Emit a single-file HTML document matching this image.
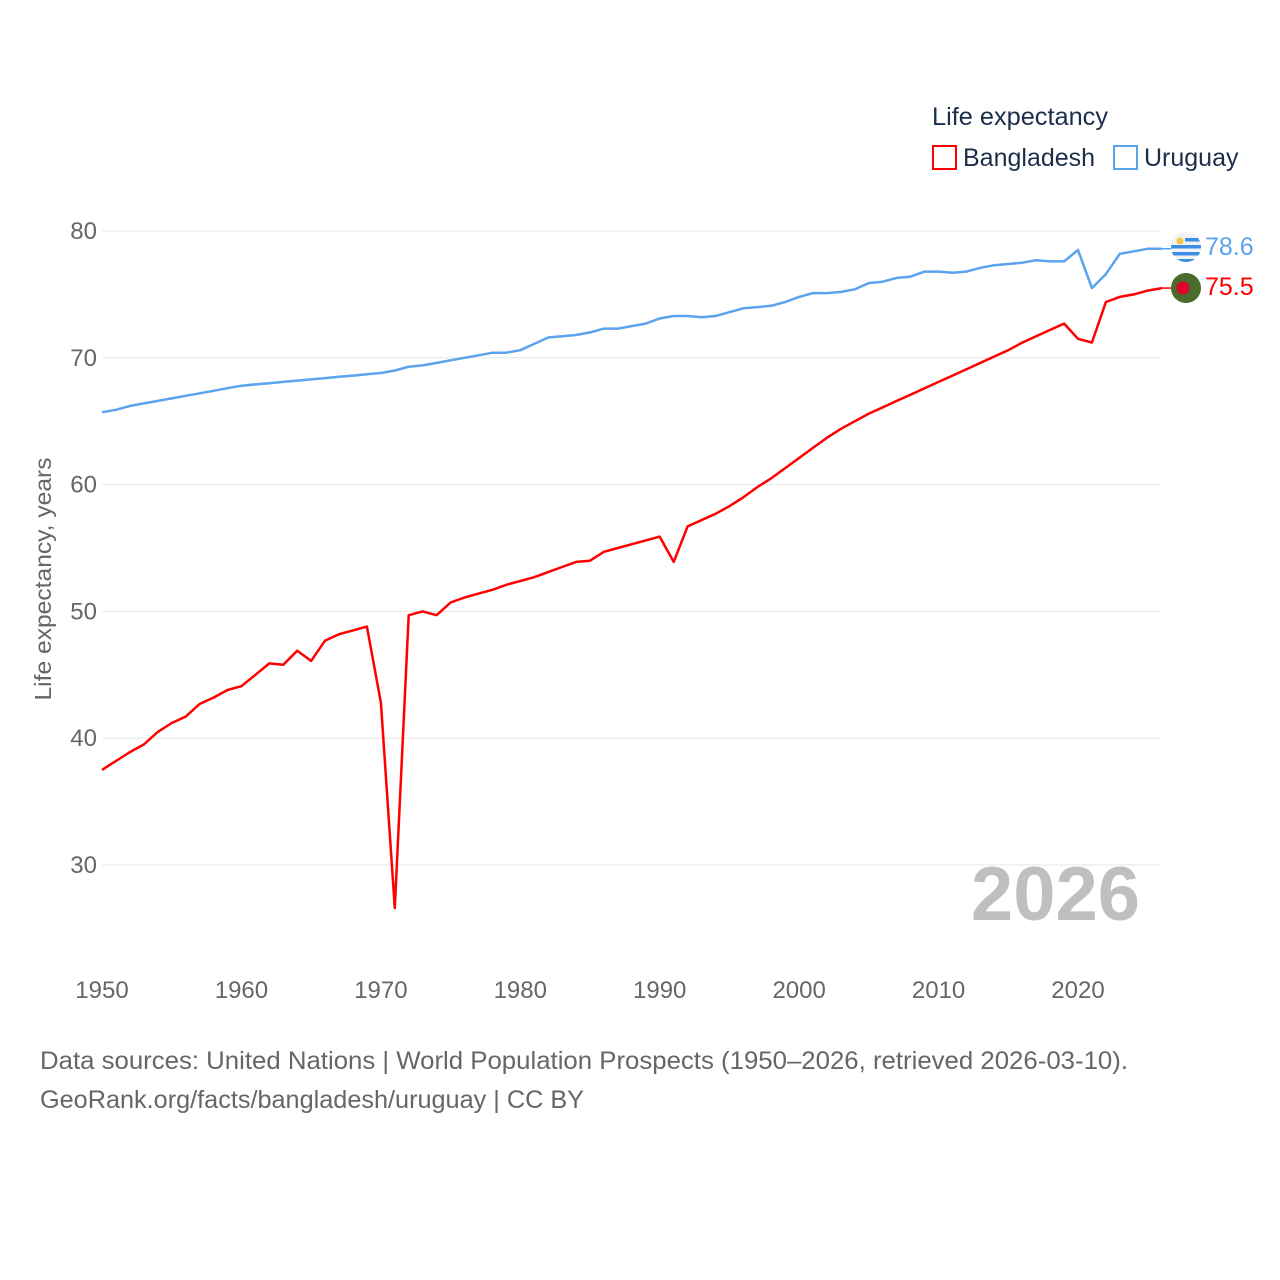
<!DOCTYPE html>
<html><head><meta charset="utf-8"><style>
body{margin:0;background:#fff;font-family:"Liberation Sans",sans-serif}
svg{display:block}
</style></head><body>
<svg id="chart" width="1280" height="1280" viewBox="0 0 1280 1280">
<g id="grid"></g>
<g id="yticks"></g>
<g id="xticks"></g>
<text x="51" y="579" transform="rotate(-90 51 579)" text-anchor="middle" font-size="23" fill="#666" textLength="243" lengthAdjust="spacingAndGlyphs">Life expectancy, years</text>
<text x="1140" y="920" text-anchor="end" font-size="76" font-weight="bold" fill="#bfbfbf">2026</text>
<g id="series"></g>
<g>
<text x="932" y="125" font-size="25" fill="#1c2e4a" textLength="176" lengthAdjust="spacingAndGlyphs">Life expectancy</text>
<g><rect x="933" y="146" width="23" height="23" fill="none" stroke="#ff0000" stroke-width="2"/><text x="963" y="166" font-size="25" fill="#1c2e4a">Bangladesh</text></g>
<g><rect x="1114" y="146" width="23" height="23" fill="none" stroke="#5ba3ec" stroke-width="2"/><text x="1144" y="166" font-size="25" fill="#1c2e4a">Uruguay</text></g>
</g>
<g>
<clipPath id="uc"><circle cx="1186" cy="247" r="15"/></clipPath>
<g clip-path="url(#uc)"><rect x="1170" y="231" width="32" height="32" fill="#f2f2f2"/>
<rect x="1170" y="238" width="32" height="3.5" fill="#3a8ee6"/><rect x="1170" y="245" width="32" height="3.5" fill="#3a8ee6"/><rect x="1170" y="252" width="32" height="3.5" fill="#3a8ee6"/><rect x="1170" y="259" width="32" height="3.5" fill="#3a8ee6"/>
<rect x="1170" y="231" width="15" height="14" fill="#f2f2f2"/><circle cx="1180" cy="241" r="3.5" fill="#f5c542"/></g>
</g>
<g><circle cx="1186" cy="288" r="15" fill="#4a6b2e"/><circle cx="1183" cy="288" r="6.5" fill="#e0002a"/></g>
<text x="1205" y="255" font-size="25" fill="#5ba3ec">78.6</text>
<text x="1205" y="295" font-size="25" fill="#ff0000">75.5</text>
<text x="40" y="1069" font-size="25" fill="#666" textLength="1088" lengthAdjust="spacingAndGlyphs">Data sources: United Nations | World Population Prospects (1950–2026, retrieved 2026-03-10).</text>
<text x="40" y="1108" font-size="25" fill="#666" textLength="544" lengthAdjust="spacingAndGlyphs">GeoRank.org/facts/bangladesh/uruguay | CC BY</text>
</svg>
<script>
const years=[];for(let y=1950;y<=2026;y++)years.push(y);
const bangladesh=[37.5,38.2,38.9,39.5,40.5,41.2,41.7,42.7,43.2,43.8,44.1,45.0,45.9,45.8,46.9,46.1,47.7,48.2,48.5,48.8,42.8,26.6,49.7,50.0,49.7,50.7,51.1,51.4,51.7,52.1,52.4,52.7,53.1,53.5,53.9,54.0,54.7,55.0,55.3,55.6,55.9,53.9,56.7,57.2,57.7,58.3,59.0,59.8,60.5,61.3,62.1,62.9,63.7,64.4,65.0,65.6,66.1,66.6,67.1,67.6,68.1,68.6,69.1,69.6,70.1,70.6,71.2,71.7,72.2,72.7,71.5,71.2,74.4,74.8,75.0,75.3,75.5];
const uruguay=[65.7,65.9,66.2,66.4,66.6,66.8,67.0,67.2,67.4,67.6,67.8,67.9,68.0,68.1,68.2,68.3,68.4,68.5,68.6,68.7,68.8,69.0,69.3,69.4,69.6,69.8,70.0,70.2,70.4,70.4,70.6,71.1,71.6,71.7,71.8,72.0,72.3,72.3,72.5,72.7,73.1,73.3,73.3,73.2,73.3,73.6,73.9,74.0,74.1,74.4,74.8,75.1,75.1,75.2,75.4,75.9,76.0,76.3,76.4,76.8,76.8,76.7,76.8,77.1,77.3,77.4,77.5,77.7,77.6,77.6,78.5,75.5,76.6,78.2,78.4,78.6,78.6];
const yTicks=[30,40,50,60,70,80];
const xTicks=[1950,1960,1970,1980,1990,2000,2010,2020];
const NS="http://www.w3.org/2000/svg";
function xs(y){return 102+(y-1950)*(1078-102)/70;}
function ys(v){return 231+(80-v)*(865-231)/50;}
function mk(tag,attrs,parent){const e=document.createElementNS(NS,tag);for(const k in attrs)e.setAttribute(k,attrs[k]);parent.appendChild(e);return e;}
const grid=document.getElementById('grid'),yt=document.getElementById('yticks'),xt=document.getElementById('xticks'),ser=document.getElementById('series');
yTicks.forEach(v=>{
 const l=mk('line',{x1:102,x2:1161,y1:ys(v),y2:ys(v),stroke:'#e6e6e6','stroke-width':1},grid);
 
 
 const t=mk('text',{x:97,y:ys(v)+8,'text-anchor':'end','font-size':24,fill:'#666'},yt);
 t.textContent=v;
 
 
});
xTicks.forEach(v=>{
 const t=mk('text',{x:xs(v),y:998,'text-anchor':'middle','font-size':24,fill:'#666'},xt);
 t.textContent=v;
 
 
});
function line(data,color,name){
 const d=data.map((v,i)=>(i?'L':'M')+xs(years[i]).toFixed(1)+','+ys(v).toFixed(1)).join('');
 const p=mk('path',{d:d,fill:'none',stroke:color,'stroke-width':2.5,'stroke-linejoin':'round'},ser);
 
 
 const last=data[data.length-1];
 mk('line',{x1:xs(2026),x2:1172,y1:ys(last),y2:ys(last),stroke:color,'stroke-width':1.5},ser);
}
line(uruguay,'#5ba3ec','line-uruguay');
line(bangladesh,'#ff0000','line-bangladesh');
</script>
</body></html>
